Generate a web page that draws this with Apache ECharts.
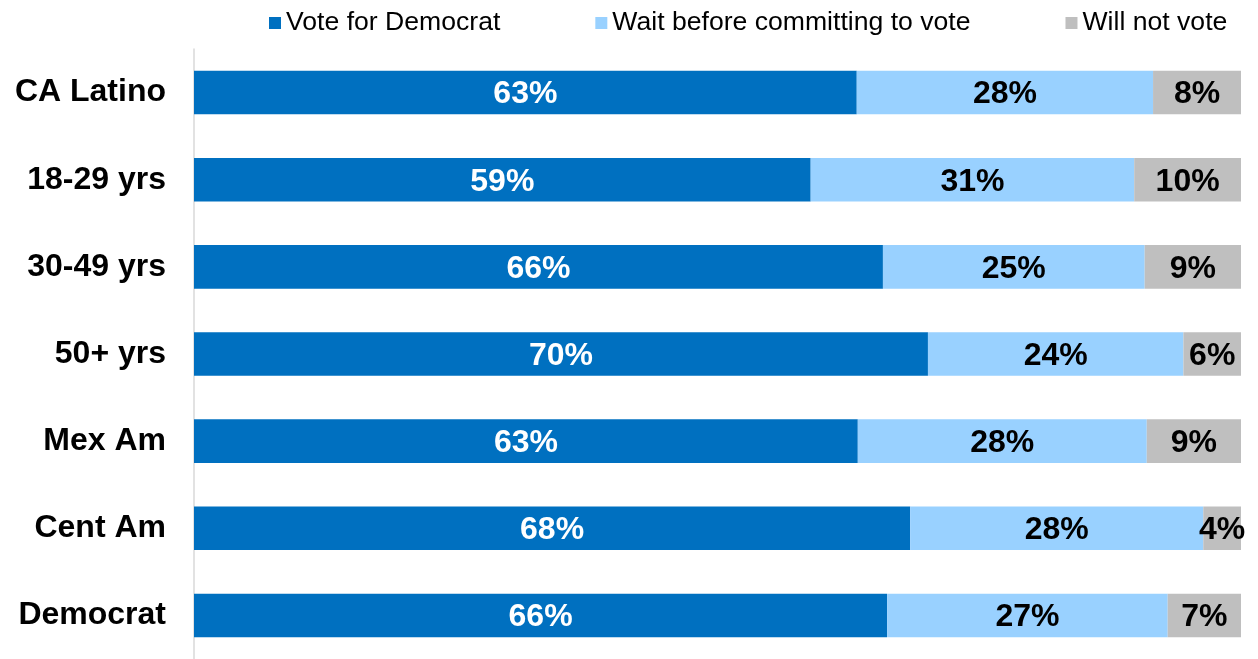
<!DOCTYPE html>
<html>
<head>
<meta charset="utf-8">
<script src="https://cdn.jsdelivr.net/npm/echarts@6/dist/echarts.min.js"></script>
<style>
html,body{margin:0;padding:0;background:#fff;}
#chart{width:1258px;height:659px;}
</style>
</head>
<body>
<div id="chart"></div>
<script>
var categories = ['CA Latino', '18-29 yrs', '30-49 yrs', '50+ yrs', 'Mex Am', 'Cent Am', 'Democrat'];
var seriesNames = ['Vote for Democrat', 'Wait before committing to vote', 'Will not vote'];
var voteDem = [63.3, 58.9, 65.8, 70.1, 63.4, 68.4, 66.2];
var waitVote = [28.3, 30.9, 25.0, 24.4, 27.6, 28.0, 26.8];
var notVote = [8.4, 10.2, 9.2, 5.5, 9.0, 3.6, 7.0];

var FONT = '"Liberation Sans", Arial, sans-serif';
var colors = ['#0070C0', '#99D1FF', '#BFBFBF'];
var labelColors = ['#FFFFFF', '#000000', '#000000'];
var allData = [voteDem, waitVote, notVote];

var chart = echarts.init(document.getElementById('chart'));
var series = allData.map(function (d, i) {
  return {
    name: seriesNames[i],
    type: 'bar',
    stack: 'total',
    data: d,
    barCategoryGap: '50%',
    itemStyle: { color: colors[i] },
    label: {
      show: true,
      position: 'inside',
      offset: [0, 2],
      formatter: function (p) { return Math.round(p.value) + '%'; },
      color: labelColors[i],
      fontFamily: FONT,
      fontWeight: 'bold',
      fontSize: 32,
      textBorderWidth: 0
    },
    emphasis: { disabled: true }
  };
});

chart.setOption({
  animation: false,
  legend: {
    data: seriesNames,
    left: 264,
    top: 4,
    icon: 'rect',
    itemWidth: 12,
    itemHeight: 12,
    itemGap: 95,
    textStyle: { fontFamily: FONT, fontSize: 26.6, color: '#000', lineHeight: 28 }
  },
  grid: { left: 194, right: 17, top: 49, height: 614, containLabel: false },
  xAxis: {
    type: 'value', min: 0, max: 100, show: false
  },
  yAxis: {
    type: 'category',
    data: categories,
    inverse: true,
    axisLine: { show: true, lineStyle: { color: '#D9D9D9', width: 1.5 } },
    axisTick: { show: false },
    axisLabel: {
      margin: 28,
      color: '#000',
      fontFamily: FONT,
      fontWeight: 'bold',
      fontSize: 32,
      padding: [2, 0, 0, 0]
    }
  },
  series: series
});
</script>
</body>
</html>
